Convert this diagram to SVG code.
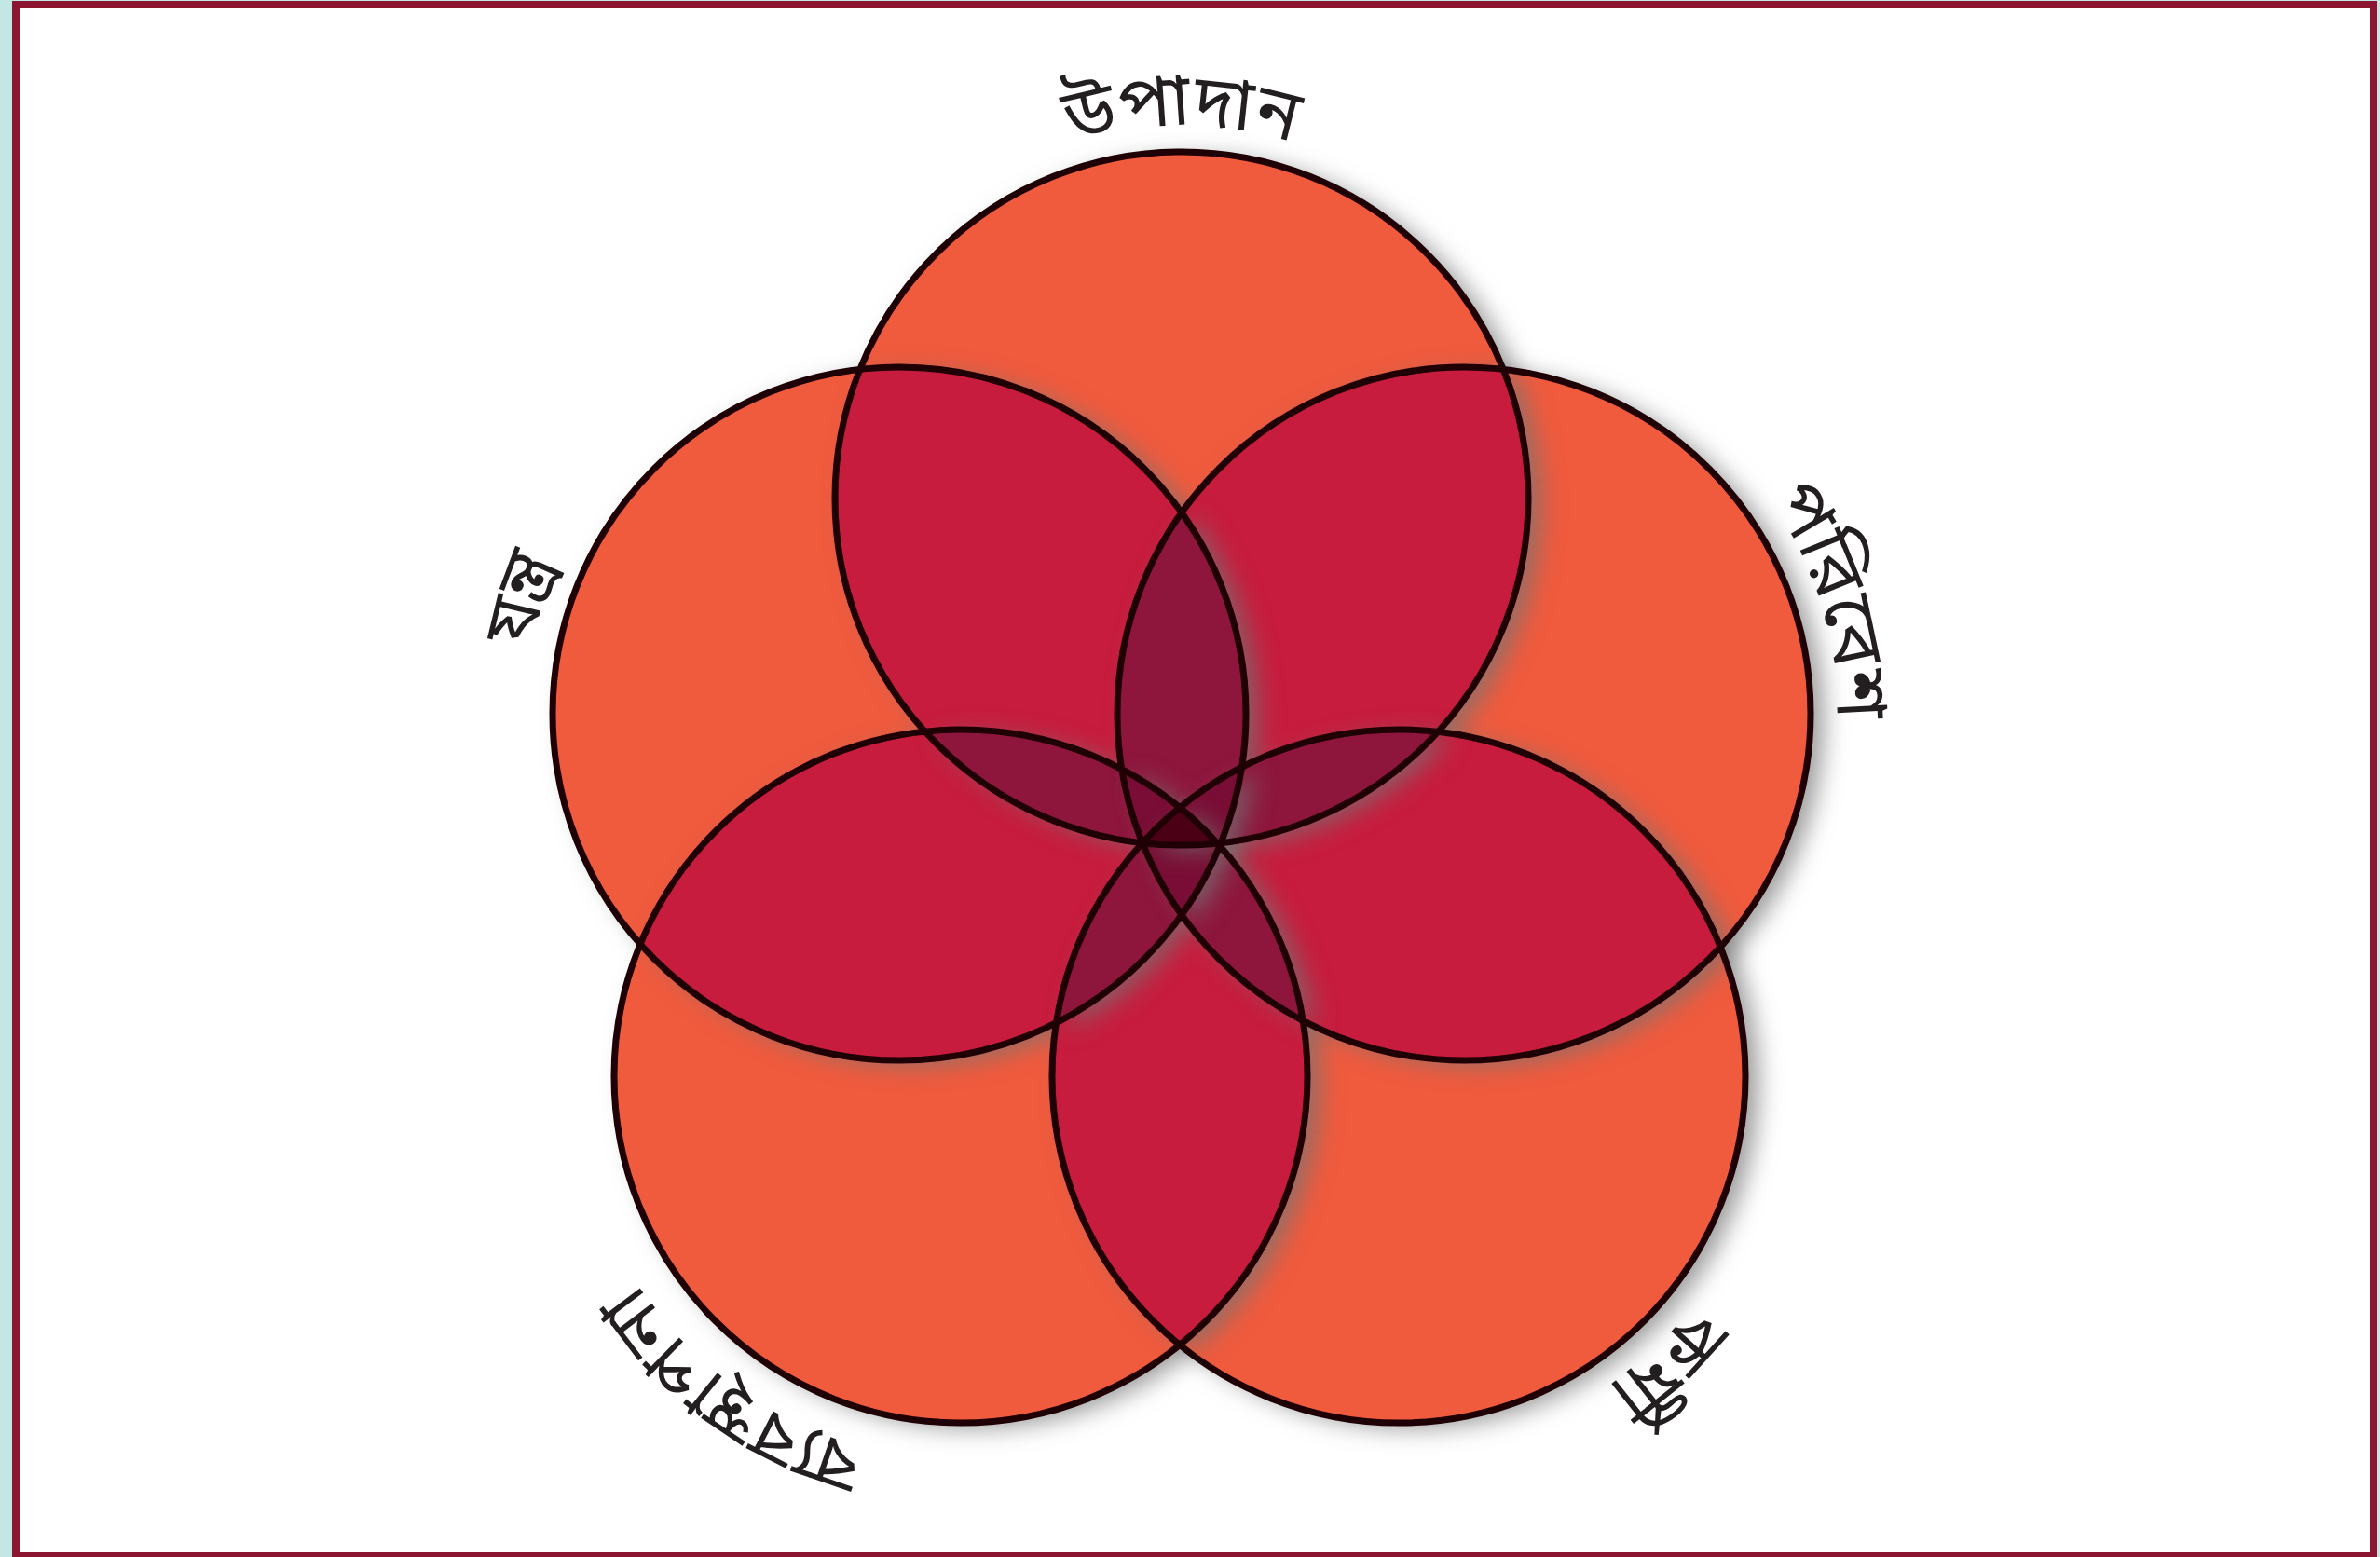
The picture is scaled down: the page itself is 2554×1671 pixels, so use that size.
<svg xmlns="http://www.w3.org/2000/svg" xmlns:xlink="http://www.w3.org/1999/xlink" width="2554" height="1671" viewBox="0 0 2554 1671">
<style>
.outline{fill:none;stroke:#1E0005;stroke-width:7}
.lbl{font-family:"Noto Sans Bengali","Noto Serif Bengali","Lohit Bengali","Noto Sans","DejaVu Sans",sans-serif;font-size:78px;fill:#231F20}
.l1{fill:#F05A3D}
.l2{fill:#C71E3E}
.l3{fill:#8E163E}
.l4{fill:#7A0F35}
.l5{fill:#4B0019}
</style>
<defs>
<circle id="T" cx="1268" cy="535" r="372"/>
<circle id="UL" cx="965" cy="766" r="372"/>
<circle id="UR" cx="1571" cy="766" r="372"/>
<circle id="LL" cx="1031" cy="1155" r="372"/>
<circle id="LR" cx="1501" cy="1155" r="372"/>
<clipPath id="cT"><use href="#T"/></clipPath>
<clipPath id="cUL"><use href="#UL"/></clipPath>
<clipPath id="cUR"><use href="#UR"/></clipPath>
<clipPath id="cLL"><use href="#LL"/></clipPath>
<clipPath id="cLR"><use href="#LR"/></clipPath>
<filter id="sh" filterUnits="userSpaceOnUse" x="0" y="0" width="2554" height="1671">
<feDropShadow dx="14" dy="6" stdDeviation="13" flood-color="#747474" flood-opacity="0.72"/>
</filter>
<path id="pT" d="M 869.5 500.1 A 400 400 0 0 1 1666.5 500.1"/>
<path id="pUR" d="M 1487.8 374.7 A 400 400 0 0 1 1720.8 1136.9"/>
<path id="pLR" d="M 1816.2 908.7 A 400 400 0 0 1 1233.3 1452.3"/>
<path id="pLL" d="M 1341.9 1425.3 A 412 412 0 0 1 677.9 942.8"/>
<path id="pUL" d="M 815.2 1136.9 A 400 400 0 0 1 1048.2 374.7"/>
</defs>
<rect x="0" y="0" width="2554" height="1671" fill="#C3E8E4"/>
<rect x="17" y="5" width="2530" height="1665" fill="#FFFFFF" stroke="#8C1631" stroke-width="8"/>

<g id="fills">
<g id="level1" class="l1" filter="url(#sh)">
<use href="#T"/><use href="#UL"/><use href="#UR"/><use href="#LL"/><use href="#LR"/>
</g>
<g id="level2" class="l2" filter="url(#sh)">
<use href="#T" clip-path="url(#cUL)"/>
<use href="#T" clip-path="url(#cUR)"/>
<use href="#T" clip-path="url(#cLL)"/>
<use href="#T" clip-path="url(#cLR)"/>
<use href="#UL" clip-path="url(#cUR)"/>
<use href="#UL" clip-path="url(#cLL)"/>
<use href="#UL" clip-path="url(#cLR)"/>
<use href="#UR" clip-path="url(#cLL)"/>
<use href="#UR" clip-path="url(#cLR)"/>
<use href="#LL" clip-path="url(#cLR)"/>
</g>
<g id="level3" class="l3" filter="url(#sh)">
<g clip-path="url(#cUR)"><use href="#T" clip-path="url(#cUL)"/></g>
<g clip-path="url(#cLL)"><use href="#T" clip-path="url(#cUL)"/></g>
<g clip-path="url(#cLR)"><use href="#T" clip-path="url(#cUL)"/></g>
<g clip-path="url(#cLL)"><use href="#T" clip-path="url(#cUR)"/></g>
<g clip-path="url(#cLR)"><use href="#T" clip-path="url(#cUR)"/></g>
<g clip-path="url(#cLR)"><use href="#T" clip-path="url(#cLL)"/></g>
<g clip-path="url(#cLL)"><use href="#UL" clip-path="url(#cUR)"/></g>
<g clip-path="url(#cLR)"><use href="#UL" clip-path="url(#cUR)"/></g>
<g clip-path="url(#cLR)"><use href="#UL" clip-path="url(#cLL)"/></g>
<g clip-path="url(#cLR)"><use href="#UR" clip-path="url(#cLL)"/></g>
</g>
<g id="level4" class="l4" filter="url(#sh)">
<g clip-path="url(#cLL)"><g clip-path="url(#cUR)"><use href="#T" clip-path="url(#cUL)"/></g></g>
<g clip-path="url(#cLR)"><g clip-path="url(#cUR)"><use href="#T" clip-path="url(#cUL)"/></g></g>
<g clip-path="url(#cLR)"><g clip-path="url(#cLL)"><use href="#T" clip-path="url(#cUL)"/></g></g>
<g clip-path="url(#cLR)"><g clip-path="url(#cLL)"><use href="#T" clip-path="url(#cUR)"/></g></g>
<g clip-path="url(#cLR)"><g clip-path="url(#cLL)"><use href="#UL" clip-path="url(#cUR)"/></g></g>
</g>
<g id="level5" class="l5" filter="url(#sh)">
<g clip-path="url(#cLR)"><g clip-path="url(#cLL)"><g clip-path="url(#cUR)"><use href="#T" clip-path="url(#cUL)"/></g></g></g>
</g>
</g>

<g id="node-top">
<use href="#T" class="outline"/>
<text class="lbl"><textPath href="#pT" startOffset="50%" text-anchor="middle">উপাদান</textPath></text>
</g>
<g id="node-upper-right">
<use href="#UR" class="outline"/>
<text class="lbl"><textPath href="#pUR" startOffset="50%" text-anchor="middle">পরিবেশ</textPath></text>
</g>
<g id="node-lower-right">
<use href="#LR" class="outline"/>
<text class="lbl"><textPath href="#pLR" startOffset="50%" text-anchor="middle">কর্মী</textPath></text>
</g>
<g id="node-lower-left">
<use href="#LL" class="outline"/>
<text class="lbl"><textPath href="#pLL" startOffset="50%" text-anchor="middle">ব্যবস্থাপনা</textPath></text>
</g>
<g id="node-upper-left">
<use href="#UL" class="outline"/>
<text class="lbl"><textPath href="#pUL" startOffset="50%" text-anchor="middle">যন্ত্র</textPath></text>
</g>
<g id="connectors"/>
</svg>
